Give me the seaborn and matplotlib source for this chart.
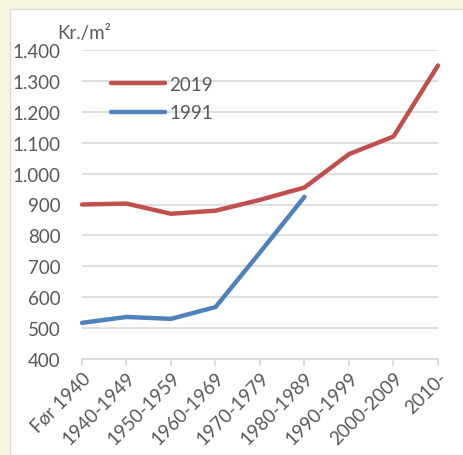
import matplotlib
matplotlib.use("Agg")
import matplotlib.pyplot as plt
import seaborn as sns
import pandas as pd
from matplotlib.patches import Rectangle

periods = ["Før 1940", "1940-1949", "1950-1959", "1960-1969", "1970-1979",
           "1980-1989", "1990-1999", "2000-2009", "2010-"]
price_2019 = [900, 903, 870, 880, 915, 955, 1063, 1120, 1350]
price_1991 = [517, 536, 530, 568, 745, 925, None, None, None]

df = pd.DataFrame({"periode": periods, "2019": price_2019, "1991": price_1991})
long = df.melt(id_vars="periode", var_name="år", value_name="pris").dropna()

sns.set_style("white")
plt.rcParams["font.family"] = ["Lato", "DejaVu Sans"]
grey = "#595959"
fs = 13.5

fig = plt.figure(figsize=(4.64, 4.56), dpi=100, facecolor="#F8F7E1")
fig.patches.append(Rectangle((10 / 464, 0), 1, 1 - 10 / 456, transform=fig.transFigure,
                             facecolor="white", edgecolor="#D9D9D9", lw=1, zorder=-10))
ax = fig.add_axes([82 / 464, 1 - 360 / 456, (438 - 82) / 464, (360 - 51) / 456])
ax.set_facecolor("none")
ax.set_zorder(5)

sns.lineplot(data=long, x="periode", y="pris", hue="år", hue_order=["2019", "1991"],
             palette={"2019": "#C0504D", "1991": "#4F81BD"}, linewidth=3.2,
             sort=False, ax=ax, solid_capstyle="round", clip_on=False)

ax.set_xlim(0, len(periods) - 1)
ax.set_ylim(400, 1400)
ax.set_yticks(range(400, 1401, 100))
ax.set_yticklabels([f"{v:,}".replace(",", ".") for v in range(400, 1401, 100)])
ax.grid(axis="y", color="#D9D9D9", lw=1.2)
ax.set_axisbelow(True)
for s in ["left", "right", "top"]:
    ax.spines[s].set_visible(False)
ax.spines["bottom"].set_color("#D9D9D9")
ax.spines["bottom"].set_linewidth(1.2)
ax.tick_params(axis="x", bottom=True, length=5, color="#D9D9D9", width=1.2, pad=2,
               labelsize=fs, labelcolor=grey)
ax.tick_params(axis="y", left=False, pad=12, labelsize=fs, labelcolor=grey)
plt.setp(ax.get_xticklabels(), rotation=45, ha="right", rotation_mode="anchor")
ax.set_xlabel("")
ax.set_ylabel("")
ax.text(-0.07, 1.04, "Kr./m²", transform=ax.transAxes, fontsize=fs, color=grey)

leg = ax.legend(loc="upper left", bbox_to_anchor=(0.06, 0.94), frameon=False,
                handlelength=2.9, fontsize=fs, labelspacing=0.6, handletextpad=0.2,
                borderaxespad=0)
for t in leg.get_texts():
    t.set_color(grey)

fig.savefig("out.png", dpi=100, facecolor=fig.get_facecolor())
